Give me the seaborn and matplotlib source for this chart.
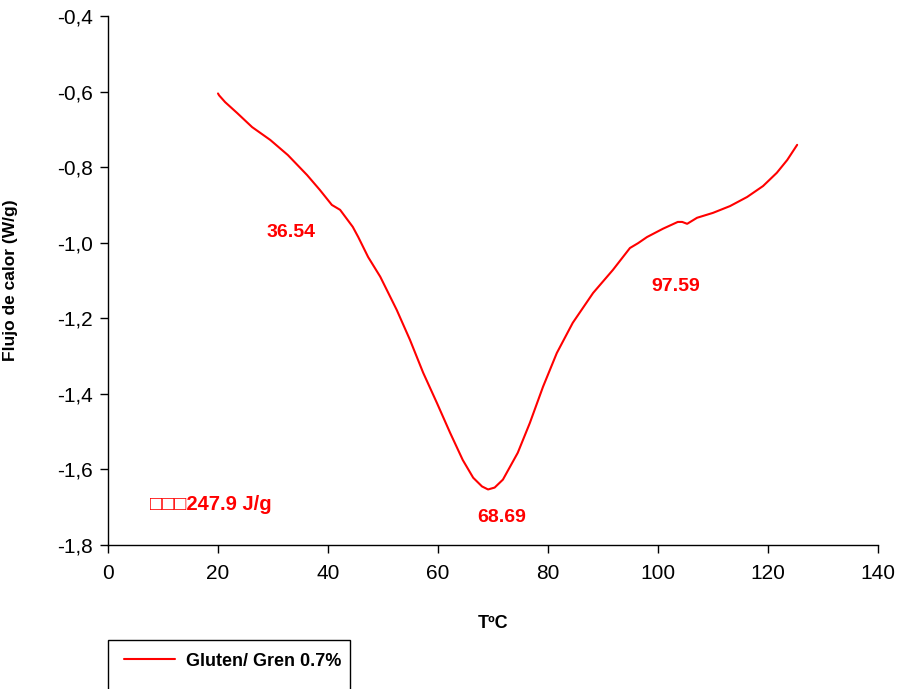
import matplotlib
matplotlib.use("Agg")
import matplotlib.pyplot as plt
from matplotlib.patches import Rectangle
from matplotlib.ticker import FuncFormatter
import pandas as pd
import seaborn as sns

# DSC thermogram: heat flow vs temperature
temperature = [20.0, 20.2, 21.3, 23.5, 26.2, 29.5, 32.7, 36.2, 38.5, 40.7, 42.2,
               44.5, 45.5, 47.3, 49.5, 52.5, 54.9, 57.3, 59.8, 62.2, 64.5, 66.4,
               68.0, 69.1, 70.3, 71.8, 74.5, 76.7, 79.1, 81.6, 84.5, 88.2, 91.8,
               94.9, 96.4, 98.0, 100.9, 103.6, 104.4, 105.3, 107.1, 110.0, 113.1,
               116.2, 119.1, 121.6, 123.5, 125.3]
heat_flow = [-0.605, -0.610, -0.628, -0.657, -0.694, -0.728, -0.768, -0.821, -0.860,
             -0.900, -0.913, -0.958, -0.985, -1.038, -1.090, -1.178, -1.257, -1.344,
             -1.424, -1.503, -1.575, -1.622, -1.645, -1.653, -1.648, -1.627, -1.556,
             -1.477, -1.381, -1.292, -1.212, -1.133, -1.072, -1.014, -1.001, -0.985,
             -0.963, -0.945, -0.945, -0.950, -0.934, -0.921, -0.903, -0.879, -0.850,
             -0.815, -0.781, -0.741]

series_label = "Gluten/ Gren 0.7%"

# Peak temperatures and enthalpy annotations
peak_labels = ["36.54", "68.69", "97.59"]
peak_x = [33.3, 71.6, 103.2]
peak_y = [-0.974, -1.728, -1.117]
enthalpy_text = "\u25a1\u25a1\u25a1247.9 J/g"
enthalpy_xy = (7.6, -1.694)

x_ticks = [0, 20, 40, 60, 80, 100, 120, 140]
y_ticks = [-1.8, -1.6, -1.4, -1.2, -1.0, -0.8, -0.6, -0.4]

df = pd.DataFrame({"T": temperature, "flujo": heat_flow})

sns.set_style("ticks")
plt.rcParams["font.family"] = ["Liberation Sans", "DejaVu Sans"]
plt.rcParams["text.color"] = "black"
plt.rcParams["axes.labelcolor"] = "black"

W, H = 902, 689
fig = plt.figure(figsize=(W / 100, H / 100), dpi=100)
ax = fig.add_axes([108 / W, 1 - 545 / H, 770 / W, 529 / H])

sns.lineplot(data=df, x="T", y="flujo", color="#ff0000", linewidth=1.5,
             label=series_label, ax=ax, legend=False)

ax.set_xlim(0, 140)
ax.set_ylim(-1.8, -0.4)
ax.set_xticks(x_ticks)
ax.set_yticks(y_ticks)
ax.yaxis.set_major_formatter(FuncFormatter(lambda v, p: f"{v:.1f}".replace(".", ",")))
ax.xaxis.set_major_formatter(FuncFormatter(lambda v, p: f"{int(round(v))}"))

for s in ["top", "right"]:
    ax.spines[s].set_visible(False)
for s in ["left", "bottom"]:
    ax.spines[s].set_color("black")
    ax.spines[s].set_linewidth(1.0)

ax.tick_params(axis="both", direction="out", length=6, width=1.0, color="black",
               labelsize=15, labelcolor="black")
ax.tick_params(axis="y", pad=5)
ax.tick_params(axis="x", pad=8)

ax.set_xlabel("T\u00baC", fontsize=13, fontweight="bold", color="black")
ax.set_ylabel("Flujo de calor (W/g)", fontsize=12.5, fontweight="bold", color="black")
ax.xaxis.set_label_coords((493 - 108) / 770, (545 - 615) / 529)
ax.yaxis.set_label_coords((18 - 108) / 770, (545 - 280) / 529)

for txt, xv, yv in zip(peak_labels, peak_x, peak_y):
    ax.text(xv, yv, txt, color="#ff0000", fontsize=14, fontweight="bold",
            ha="center", va="center")
ax.text(enthalpy_xy[0], enthalpy_xy[1], enthalpy_text, color="#ff0000",
        fontsize=14.5, fontweight="bold", ha="left", va="center",
        family=["Liberation Sans", "DejaVu Sans"])

# legend below the axes, its frame running off the bottom edge
handles, labels = ax.get_legend_handles_labels()
fig.legend(handles, labels, loc="center left",
           bbox_to_anchor=(124 / W, 1 - 661 / H), frameon=False,
           borderpad=0, borderaxespad=0, handlelength=2.8, handletextpad=0.65,
           prop={"weight": "bold", "size": 13}, labelcolor="black")
fig.add_artist(Rectangle((108 / W, 1 - 720 / H), 242 / W, 80 / H,
                         transform=fig.transFigure, fill=False,
                         edgecolor="black", linewidth=1.0))

fig.savefig("out.png", dpi=100)
